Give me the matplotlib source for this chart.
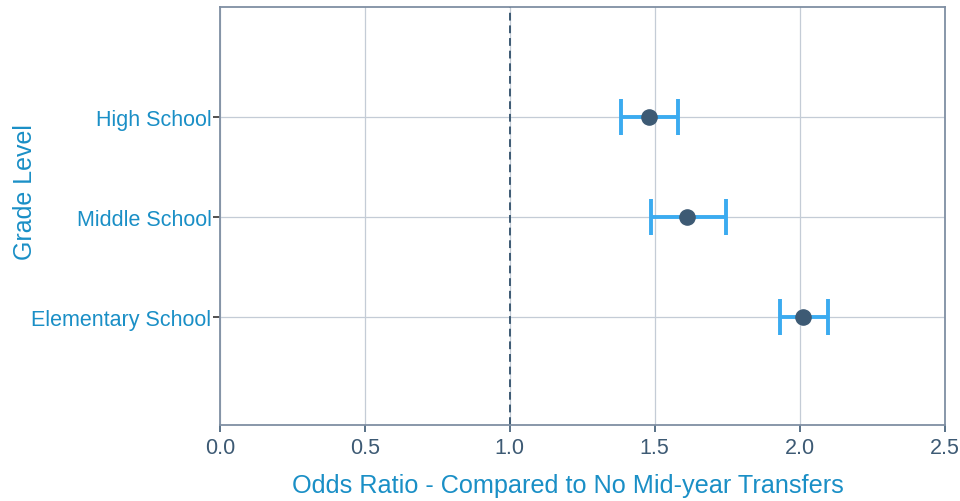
import matplotlib
matplotlib.use("Agg")
import matplotlib.pyplot as plt

# data
grades   = ["Elementary School", "Middle School", "High School"]
odds     = [2.01, 1.61, 1.48]
ci_low   = [1.932, 1.486, 1.385]
ci_high  = [2.096, 1.747, 1.58]
x_ticks  = [0.0, 0.5, 1.0, 1.5, 2.0, 2.5]

BLUE_TXT = "#1a8fc6"
SLATE    = "#3d5a74"
ERR      = "#3babf0"
GRID     = "#c4ccd6"

plt.rcParams["font.family"] = ["Liberation Sans", "DejaVu Sans"]

fig = plt.figure(figsize=(9.6, 5.02), dpi=100)
ax = fig.add_axes([0.229, 0.1514, 0.755, 0.8326])

ypos = list(range(len(grades)))
xerr = [[o - l for o, l in zip(odds, ci_low)],
        [h - o for o, h in zip(odds, ci_high)]]

ax.errorbar(odds, ypos, xerr=xerr, fmt="none", ecolor=ERR,
            elinewidth=2.8, capsize=13, capthick=2.8, zorder=3)
ax.scatter(odds, ypos, s=120, color=SLATE, zorder=4)
ax.axvline(1.0, color=SLATE, ls=(0, (4, 2.5)), lw=1.4, zorder=2)

ax.set_xlim(0, 2.5)
ax.set_ylim(-1.08, 3.1)
ax.set_xticks(x_ticks)
ax.set_xticklabels([f"{v:.1f}" for v in x_ticks])
ax.set_yticks(ypos)
ax.set_yticklabels(grades)

ax.grid(True, color=GRID, lw=0.9)
ax.set_axisbelow(True)
for s in ax.spines.values():
    s.set_color("#7f8fa3")
    s.set_linewidth(1.3)

ax.tick_params(axis="x", colors=SLATE, labelsize=15.5, length=5, width=1.2, pad=4)
ax.tick_params(axis="y", colors="#333333", labelcolor=BLUE_TXT, labelsize=15.5,
               length=5, width=1.2, pad=1)

ax.set_xlabel("Odds Ratio - Compared to No Mid-year Transfers",
              color=BLUE_TXT, fontsize=18.2)
ax.set_ylabel("Grade Level", color=BLUE_TXT, fontsize=18)
ax.xaxis.set_label_coords(0.48, -0.115)
ax.yaxis.set_label_coords(-0.252, 0.56)

fig.savefig("out.png", dpi=100)
